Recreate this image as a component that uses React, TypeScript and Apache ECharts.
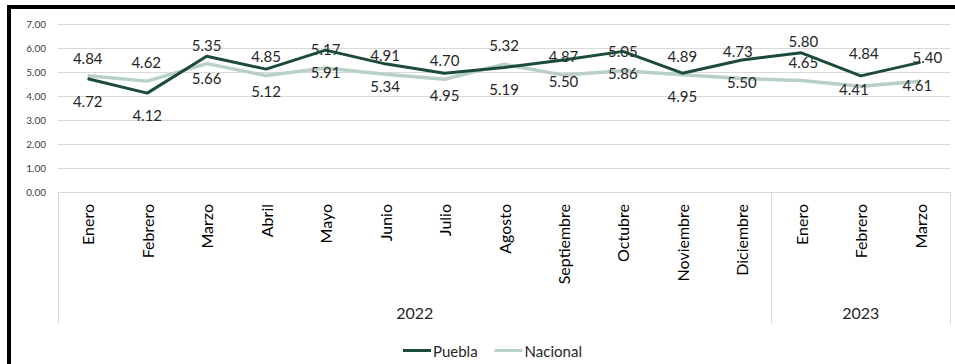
import React, { useEffect, useRef } from "react";
import * as echarts from "echarts";

const months = [
  "Enero", "Febrero", "Marzo", "Abril", "Mayo", "Junio", "Julio", "Agosto",
  "Septiembre", "Octubre", "Noviembre", "Diciembre", "Enero", "Febrero", "Marzo",
];
const years = ["2022", "2023"];
const yearSpans = [12, 3];

const puebla = [4.72, 4.12, 5.66, 5.12, 5.91, 5.34, 4.95, 5.19, 5.5, 5.86, 4.95, 5.5, 5.8, 4.84, 5.4];
const nacional = [4.84, 4.62, 5.35, 4.85, 5.17, 4.91, 4.7, 5.32, 4.87, 5.05, 4.89, 4.73, 4.65, 4.41, 4.61];

const yTicks = [0, 1, 2, 3, 4, 5, 6, 7];

// label placement (style only)
const pueblaLabelOffsets: number[][] = [
  [0, 22], [0, 22], [0, 22], [0, 22], [0, 22], [0, 22], [0, 22], [0, 22],
  [0, 21], [0, 22], [0, 23], [0, 22], [2, -12], [3, -23], [7, -5],
];
const nacionalLabelOffsets: number[][] = [
  [0, -18], [-1, -19], [0, -19], [0, -20], [0, -19], [0, -19], [0, -19], [0, -19],
  [0, -19], [0, -20], [0, -19], [-4, -27], [2, -18], [-7, 3], [-3, 4],
];

const DARK = "#1d4b39";
const LIGHT = "#b9d0c7";
const FONT = "Lato";

export default function App() {
  const ref = useRef<HTMLDivElement>(null);

  useEffect(() => {
    if (!ref.current) return;
    const chart = echarts.init(ref.current, undefined, { renderer: "svg" });

    const boundaries: number[] = [0];
    const centers: number[] = [];
    yearSpans.forEach((s) => {
      const start = boundaries[boundaries.length - 1];
      centers.push(start + s / 2);
      boundaries.push(start + s);
    });

    const mkData = (vals: number[], offs: number[][]) =>
      vals.map((v, i) => ({
        value: v,
        label: { offset: offs[i] },
      }));

    const labelCommon = {
      show: true,
      position: "inside",
      color: "#262626",
      fontFamily: FONT,
      fontSize: 15,
      formatter: (p: any) => Number(p.value).toFixed(2),
    };

    chart.setOption({
      animation: false,
      textStyle: { fontFamily: FONT },
      grid: { left: 58, right: 5, top: 24, height: 168, containLabel: false },
      legend: {
        left: 398,
        top: 338,
        icon: "rect",
        itemWidth: 28,
        itemHeight: 3,
        itemGap: 17,
        textStyle: {
          fontFamily: FONT,
          fontSize: 15,
          color: "#262626",
          padding: [0, 0, 0, -3],
        },
        data: ["Puebla", "Nacional"],
      },
      xAxis: [
        {
          type: "category",
          data: months,
          boundaryGap: true,
          position: "bottom",
          axisLine: { show: true, lineStyle: { color: "#d9d9d9", width: 1 } },
          axisTick: { show: false },
          axisLabel: {
            rotate: 90,
            margin: 12,
            interval: 0,
            fontFamily: FONT,
            fontSize: 16,
            color: "#000",
          },
        },
        {
          type: "value",
          min: 0,
          max: months.length,
          position: "bottom",
          axisLine: { show: false },
          splitLine: { show: false },
          axisTick: {
            show: true,
            customValues: boundaries,
            length: 132,
            lineStyle: { color: "#d9d9d9", width: 1 },
          },
          axisLabel: {
            show: true,
            customValues: centers,
            margin: 112,
            fontFamily: FONT,
            fontSize: 16,
            color: "#262626",
            formatter: (v: number) => {
              const idx = centers.findIndex((c) => Math.abs(c - v) < 1e-6);
              return idx >= 0 ? years[idx] : "";
            },
          },
        },
      ],
      yAxis: {
        type: "value",
        min: yTicks[0],
        max: yTicks[yTicks.length - 1],
        interval: 1,
        axisLine: { show: false },
        axisTick: { show: false },
        splitLine: { lineStyle: { color: "#d9d9d9", width: 1 } },
        axisLabel: {
          margin: 12,
          fontFamily: FONT,
          fontSize: 10,
          color: "#404040",
          formatter: (v: number) => v.toFixed(2),
        },
      },
      series: [
        {
          name: "Nacional",
          type: "line",
          xAxisIndex: 0,
          data: mkData(nacional, nacionalLabelOffsets),
          symbol: "circle",
          symbolSize: 1,
          showSymbol: true,
          lineStyle: { color: LIGHT, width: 3.5 },
          itemStyle: { color: LIGHT },
          label: labelCommon,
          z: 2,
        },
        {
          name: "Puebla",
          type: "line",
          xAxisIndex: 0,
          data: mkData(puebla, pueblaLabelOffsets),
          symbol: "circle",
          symbolSize: 1,
          showSymbol: true,
          lineStyle: { color: DARK, width: 3 },
          itemStyle: { color: DARK },
          label: labelCommon,
          z: 3,
        },
      ],
    });

    return () => chart.dispose();
  }, []);

  return (
    <div
      style={{
        position: "fixed",
        left: 0,
        top: 0,
        width: 955,
        height: 364,
        overflow: "hidden",
        background: "#fff",
      }}
    >
      <div
        style={{
          position: "absolute",
          left: 7,
          top: 5,
          width: 1000,
          height: 400,
          borderLeft: "4px solid #000",
          borderTop: "4px solid #000",
          boxSizing: "border-box",
        }}
      />
      <div
        ref={ref}
        style={{ position: "absolute", left: 0, top: 0, width: 955, height: 364 }}
      />
    </div>
  );
}
